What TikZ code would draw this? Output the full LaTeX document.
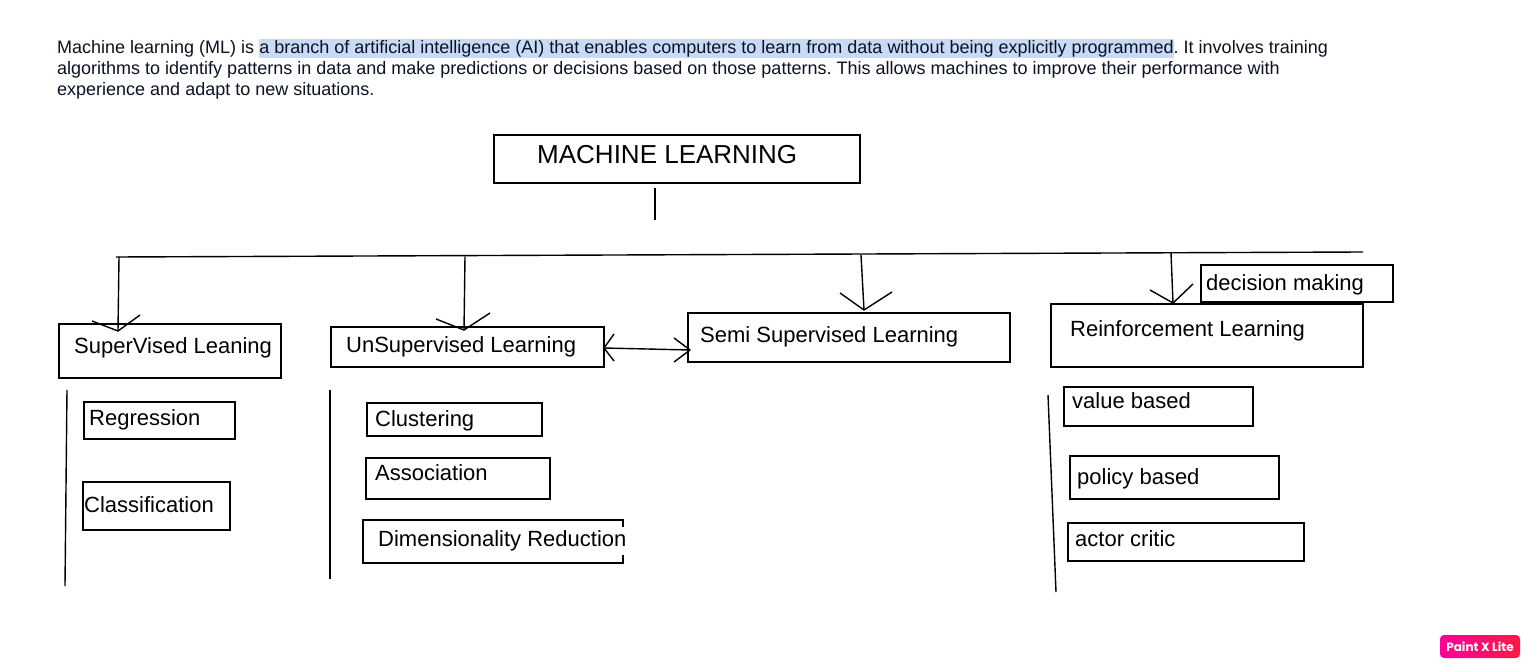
\documentclass[tikz,border=0pt]{standalone}
\usepackage{fontspec}
\setmainfont{Liberation Sans}
\newfontfamily\badgefont{Poppins}
\usetikzlibrary{calc}
\frenchspacing
\definecolor{ink}{RGB}{12,18,34}
\definecolor{hl}{RGB}{200,218,245}
\definecolor{pinkA}{RGB}{255,0,150}
\definecolor{redB}{RGB}{255,25,70}
\newcommand\hlbox[1]{{\setlength{\fboxsep}{0pt}\colorbox{hl}{\rule[-4.5pt]{0pt}{19.5pt}#1}}}
\begin{document}
\begin{tikzpicture}[x=1pt,y=-1pt,
  para/.style={anchor=base west, inner sep=0, text=ink, font=\frenchspacing\fontsize{18}{21}\selectfont},
  lbl/.style={anchor=base west, inner sep=0, font=\fontsize{22}{26}\selectfont},
  box/.style={draw, line width=1.6pt, inner sep=0},
  boxline/.style={line width=1.6pt},
  wire/.style={line width=1.4pt},
  tipline/.style={line width=1.4pt, line join=round},
  ]
\useasboundingbox[fill=white] (0,0) rectangle (1530,668);

% paragraph
\node[para] (p1) at (57,54) {Machine learning (ML) is \hlbox{a branch of artificial intelligence (AI) that enables computers to learn from data without being explicitly programmed}. It involves training};
\node[para] (p2) at (57,75) {algorithms to identify patterns in data and make predictions or decisions based on those patterns. This allows machines to improve their performance with};
\node[para] (p3) at (57,96) {experience and adapt to new situations.};

% boxes
\node[box, minimum width=366, minimum height=48] (ml) at (677,159) {};
\node[anchor=base west, inner sep=0, font=\fontsize{26}{30}\selectfont] (mlt) at (537,164) {MACHINE LEARNING};

\node[box, minimum width=222, minimum height=54] (sup) at (170,351) {};
\node[lbl] (supt) at (74,353) {SuperVised Leaning};

\node[box, minimum width=273, minimum height=40] (uns) at (467.5,347) {};
\node[lbl] (unst) at (346,352) {UnSupervised Learning};

\node[box, minimum width=322, minimum height=49] (semi) at (849,337.5) {};
\node[lbl] (semit) at (700,342) {Semi Supervised Learning};

\node[box, minimum width=312, minimum height=63] (rein) at (1207,335.5) {};
\node[lbl] (reint) at (1070,336) {Reinforcement Learning};

\node[box, minimum width=192, minimum height=37] (dec) at (1297,283.5) {};
\node[lbl] (dect) at (1206,290) {decision making};

\node[box, minimum width=151, minimum height=37] (reg) at (159.5,420.5) {};
\node[lbl] (regt) at (89,425) {Regression};

\node[box, minimum width=147, minimum height=48] (cls) at (156.5,506) {};
\node[lbl] (clst) at (84,512) {Classification};

\node[box, minimum width=175, minimum height=33] (clu) at (454.5,419.5) {};
\node[lbl] (clut) at (375,426) {Clustering};

\node[box, minimum width=184, minimum height=41] (ass) at (458,478.5) {};
\node[lbl] (asst) at (375,480) {Association};

\node[inner sep=0, minimum width=260, minimum height=43] (dim) at (493,541.5) {};
\draw[boxline] ([yshift=-7pt]dim.north east) -- (dim.north east) -- (dim.north west)
  -- (dim.south west) -- (dim.south east) -- ([yshift=8pt]dim.south east);
\node[lbl] (dimt) at (378,546) {Dimensionality Reduction};

\node[box, minimum width=189, minimum height=39] (val) at (1158.5,406.5) {};
\node[lbl] (valt) at (1072,408) {value based};

\node[box, minimum width=209, minimum height=43] (pol) at (1174.5,477.5) {};
\node[lbl] (polt) at (1077,484) {policy based};

\node[box, minimum width=236, minimum height=38] (act) at (1186,542) {};
\node[lbl] (actt) at (1075,546) {actor critic};

% connectors
\coordinate (ms) at (655,188);
\coordinate (me) at (655,220);
\draw[wire] (ms) -- (me);

\coordinate (busL) at (116,257);
\coordinate (busR) at (1363,252);
\draw[wire] (busL) -- (busR);

\coordinate (d1) at (119,257);   \coordinate (t1) at (118,331);
\coordinate (d2) at (465,256.5); \coordinate (t2) at (464,330);
\coordinate (d3) at (861,255);   \coordinate (t3) at (864,310);
\coordinate (d4) at (1171,253);  \coordinate (t4) at (1173,303);
\draw[wire] (d1) -- (t1);
\draw[wire] (d2) -- (t2);
\draw[wire] (d3) -- (t3);
\draw[wire] (d4) -- (t4);
\draw[tipline] ($(t1)+(-26,-10)$) -- (t1) -- ($(t1)+(22,-16)$);
\draw[tipline] ($(t2)+(-28,-11)$) -- (t2) -- ($(t2)+(26,-17)$);
\draw[tipline] ($(t3)+(-24,-17)$) -- (t3) -- ($(t3)+(28,-18)$);
\draw[tipline] ($(t4)+(-23,-13)$) -- (t4) -- ($(t4)+(20,-19)$);

% double arrow
\coordinate (ua) at (604,348);
\coordinate (sa) at (690,350);
\draw[wire] (ua) -- (sa);
\draw[tipline] ($(ua)+(10,-14)$) -- (ua) -- ($(ua)+(10,13)$);
\draw[tipline] ($(sa)+(-16,-12)$) -- (sa) -- ($(sa)+(-16,12)$);

% side rails
\coordinate (r1a) at (67,390);   \coordinate (r1b) at (65,586);
\coordinate (r2a) at (330,390);  \coordinate (r2b) at (330,579);
\coordinate (r3a) at (1048,395); \coordinate (r3b) at (1056,592);
\draw[wire] (r1a) -- (r1b);
\draw[wire] (r2a) -- (r2b);
\draw[wire] (r3a) -- (r3b);

% badge
\node[rounded corners=4pt, left color=pinkA, right color=redB, minimum width=80, minimum height=23,
  inner sep=0, text=white, font=\badgefont\bfseries\fontsize{12}{12}\selectfont] (badge) at (1480,646.5) {Paint X Lite};
\end{tikzpicture}
\end{document}
